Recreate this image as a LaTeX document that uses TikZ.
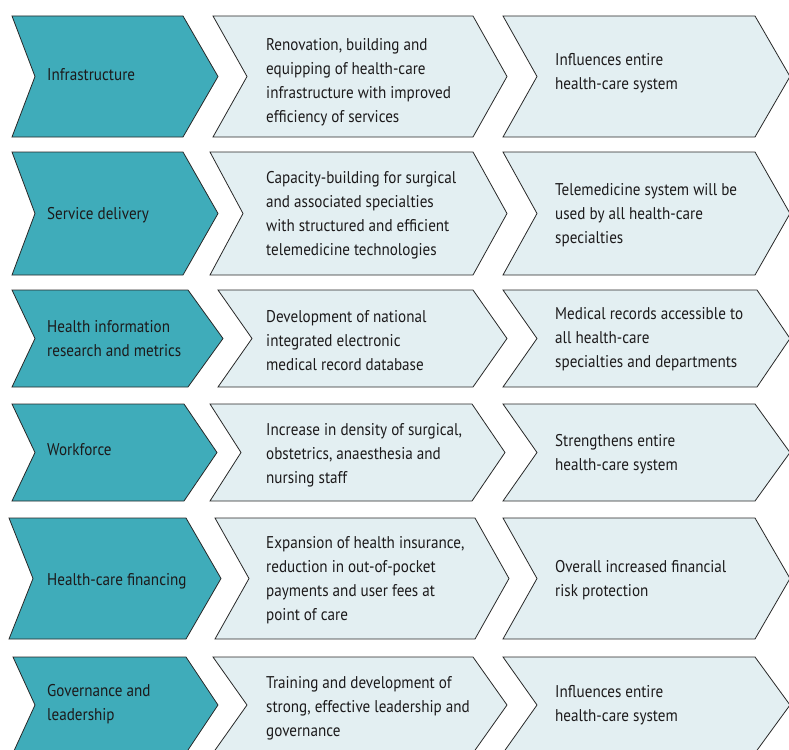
\documentclass[tikz,border=0pt]{standalone}
\usepackage{fontspec}
\setmainfont[FakeStretch=0.89]{PT Sans}
\definecolor{tealfill}{RGB}{63,172,186}
\definecolor{litefill}{RGB}{227,239,242}
\definecolor{edge}{RGB}{40,40,40}
\definecolor{ink}{RGB}{28,26,27}
\tikzset{
  tealbox/.style={fill=tealfill,draw=edge,line width=0.8pt,line join=miter},
  litebox/.style={fill=litefill,draw=edge,line width=0.8pt,line join=miter},
  lbl/.style={anchor=west,align=left,inner sep=0pt,text=ink,font=\fontsize{17}{24}\selectfont}
}
% #1 style, #2 left, #3 notch, #4 corner, #5 tip, #6 top, #7 bottom
\newcommand\chevronshape[7]{%
  \path[#1] (#2,#6) -- (#4,#6) -- (#5,{(#6+#7)/2}) -- (#4,#7) -- (#2,#7) -- (#3,{(#6+#7)/2}) -- cycle;}
\begin{document}
\begin{tikzpicture}[x=1pt,y=-1pt]
\useasboundingbox (0,0) rectangle (789,749);
% Row 1
\chevronshape{tealbox}{12}{35}{183}{218}{16}{137}
\chevronshape{litebox}{213}{247}{473}{507}{16}{137}
\chevronshape{litebox}{503}{537}{755}{790}{16}{137}
\node[lbl] (t1) at (47,75) {Infrastructure};
\node[lbl] (m1) at (266,82) {Renovation, building and\\equipping of health-care\\infrastructure with improved\\efficiency of services};
\node[lbl] (r1) at (555,73) {Influences entire\\health-care system};
% Row 2
\chevronshape{tealbox}{12}{35}{183}{218}{152}{275}
\chevronshape{litebox}{210}{243}{473}{507}{152}{275}
\chevronshape{litebox}{503}{537}{755}{790}{152}{275}
\node[lbl] (t2) at (47,215) {Service delivery};
\node[lbl] (m2) at (266,215) {Capacity-building for surgical\\and associated specialties\\with structured and efficient\\telemedicine technologies};
\node[lbl] (r2) at (555,215) {Telemedicine system will be\\used by all health-care\\specialties};
% Row 3
\chevronshape{tealbox}{12}{35}{188}{223}{290}{387}
\chevronshape{litebox}{218}{252}{473}{507}{290}{387}
\chevronshape{litebox}{503}{537}{757}{790}{290}{387}
\node[lbl] (t3) at (47,339) {Health information\\research and metrics};
\node[lbl] (m3) at (266,341) {Development of national\\integrated electronic\\ medical record database};
\node[lbl] (r3) at (555,339) {Medical records accessible to\\all health-care\\specialties and departments};
% Row 4
\chevronshape{tealbox}{12}{35}{184}{217}{404}{501}
\chevronshape{litebox}{210}{241}{472}{505}{404}{501}
\chevronshape{litebox}{503}{537}{755}{790}{404}{501}
\node[lbl] (t4) at (47,450) {Workforce};
\node[lbl] (m4) at (266,455) {Increase in density of surgical,\\obstetrics, anaesthesia and\\nursing staff};
\node[lbl] (r4) at (555,454) {Strengthens entire\\health-care system};
% Row 5
\chevronshape{tealbox}{9}{33}{186}{221}{518}{639}
\chevronshape{litebox}{215}{249}{475}{509}{518}{639}
\chevronshape{litebox}{503}{537}{755}{790}{518}{639}
\node[lbl] (t5) at (47,581) {Health-care financing};
\node[lbl] (m5) at (266,580) {Expansion of health insurance,\\reduction in out-of-pocket\\payments and user fees at\\point of care};
\node[lbl] (r5) at (555,580) {Overall increased financial\\risk protection};
% Row 6
\chevronshape{tealbox}{13}{35}{186}{218}{657}{753}
\chevronshape{litebox}{213}{247}{473}{507}{657}{753}
\chevronshape{litebox}{503}{537}{755}{790}{657}{753}
\node[lbl] (t6) at (47,704) {Governance and\\leadership};
\node[lbl] (m6) at (266,708) {Training and development of\\strong, effective leadership and\\governance};
\node[lbl] (r6) at (555,705) {Influences entire\\health-care system};
\end{tikzpicture}
\end{document}
